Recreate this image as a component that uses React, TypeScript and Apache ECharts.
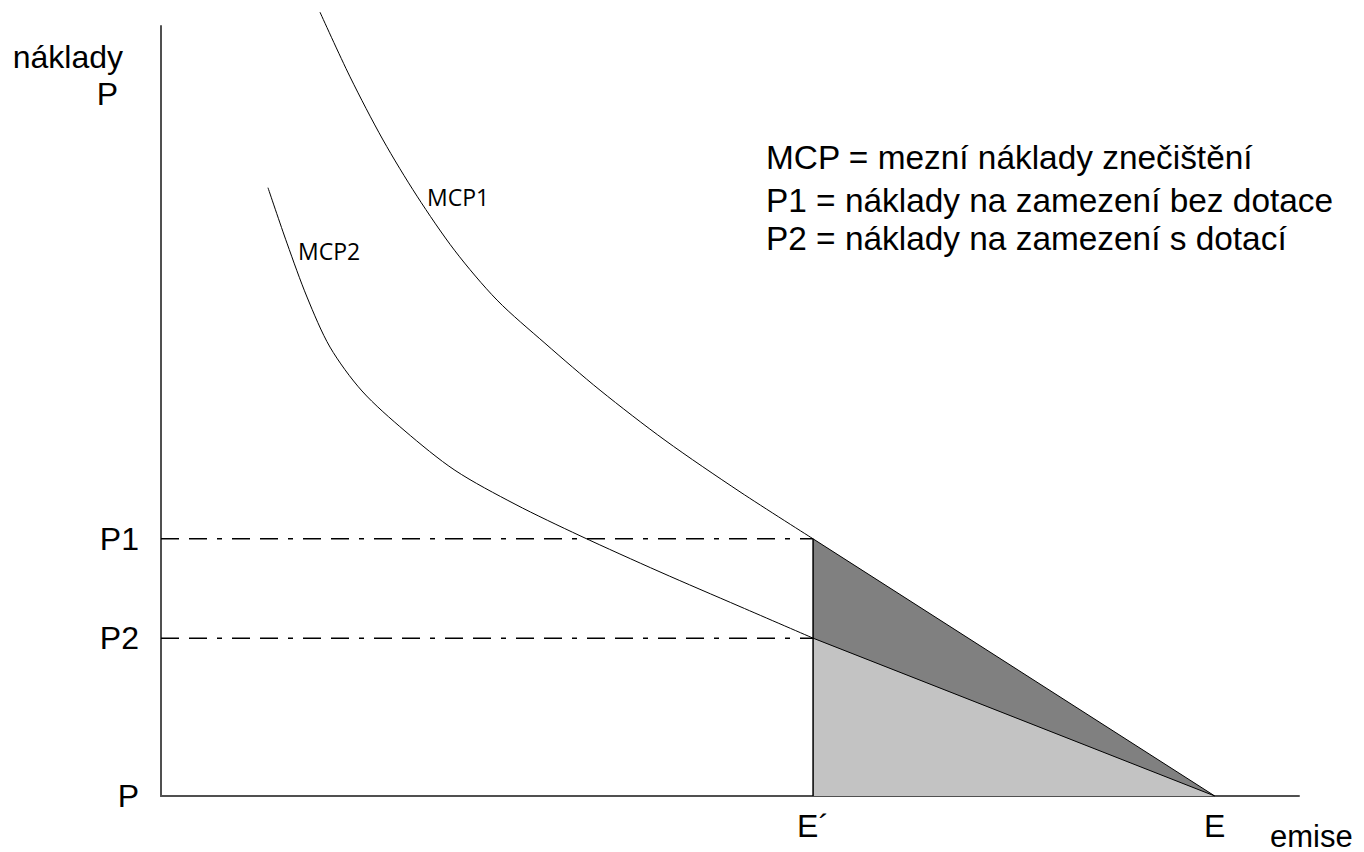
import React, { useEffect, useRef } from "react";
import * as echarts from "echarts";

// MCP1 curve (emise, náklady)
const mcp1X = [13.97, 16.61, 19.51, 22.5, 25.83, 29.53, 33.74, 38.58, 44.29, 50.88, 57.3];
const mcp1Y = [101.8, 93.4, 85.2, 77.9, 70.8, 64.4, 58.8, 52.7, 46.2, 39.5, 33.4];
// MCP2 curve
const mcp2X = [9.4, 11.07, 12.83, 14.85, 17.66, 21.44, 25.83, 31.11, 36.82, 43.85, 50.88, 57.3];
const mcp2Y = [79.0, 71.8, 64.8, 58.3, 52.6, 47.4, 42.3, 37.9, 33.8, 29.1, 24.6, 20.5];

// key levels
const ePrime = 57.3;
const eFull = 92.6;
const p1 = 33.4;
const p2 = 20.5;

const yTickValues = [0, p2, p1];
const yTickLabels = ["P", "P2", "P1"];
const xTickValues = [ePrime, eFull];
const xTickLabels = ["E\u00b4", "E"];

const legendLines = [
  "MCP = mezní náklady znečištění",
  "P1 = náklady na zamezení bez dotace",
  "P2 = náklady na zamezení s dotací",
];

const FONT = "'Liberation Sans', Arial, sans-serif";

function pick(values: number[], labels: string[], v: number) {
  let best = 0;
  for (let i = 0; i < values.length; i++) {
    if (Math.abs(values[i] - v) < Math.abs(values[best] - v)) best = i;
  }
  return labels[best];
}

export default function App() {
  const ref = useRef<HTMLDivElement>(null);
  useEffect(() => {
    document.body.style.margin = "0";
    const chart = echarts.init(ref.current!, null, { renderer: "svg" });
    const dashType = [18, 10, 18, 10, 5, 10];
    const option: any = {
      animation: false,
      backgroundColor: "#ffffff",
      grid: { left: 161, right: 65, top: 26, bottom: 56 },
      xAxis: {
        type: "value",
        min: 0,
        max: 100,
        splitLine: { show: false },
        axisTick: { show: false },
        axisLine: { show: true, lineStyle: { color: "#505050", width: 2 } },
        axisLabel: {
          customValues: xTickValues,
          formatter: (v: number) => pick(xTickValues, xTickLabels, v),
          color: "#000",
          fontFamily: FONT,
          fontSize: 32,
          margin: 14,
        },
      },
      yAxis: {
        type: "value",
        min: 0,
        max: 100,
        splitLine: { show: false },
        axisTick: { show: false },
        axisLine: { show: true, lineStyle: { color: "#505050", width: 2 } },
        axisLabel: {
          customValues: yTickValues,
          formatter: (v: number) => pick(yTickValues, yTickLabels, v),
          color: "#000",
          fontFamily: FONT,
          fontSize: 32,
          margin: 22,
        },
      },
      series: [
        {
          type: "line",
          data: [[ePrime, p1], [eFull, 0]],
          symbol: "none",
          lineStyle: { color: "#000", width: 1 },
          areaStyle: { color: "#808080", opacity: 1 },
          z: 1,
        },
        {
          type: "line",
          data: [[ePrime, p2], [eFull, 0]],
          symbol: "none",
          lineStyle: { color: "#000", width: 1 },
          areaStyle: { color: "#c3c3c3", opacity: 1 },
          z: 2,
        },
        {
          type: "line",
          data: [[ePrime, 0], [ePrime, p1]],
          symbol: "none",
          lineStyle: { color: "#000", width: 1.5 },
          z: 3,
        },
        {
          type: "line",
          data: [[0, p1], [ePrime, p1]],
          symbol: "none",
          lineStyle: { color: "#000", width: 1.5, type: dashType },
          z: 3,
        },
        {
          type: "line",
          data: [[0, p2], [ePrime, p2]],
          symbol: "none",
          lineStyle: { color: "#000", width: 1.5, type: dashType },
          z: 3,
        },
        {
          name: "MCP1",
          type: "line",
          data: mcp1X.map((x, i) => [x, mcp1Y[i]]),
          symbol: "none",
          smooth: 0.3,
          clip: false,
          lineStyle: { color: "#000", width: 1 },
          z: 4,
        },
        {
          name: "MCP2",
          type: "line",
          data: mcp2X.map((x, i) => [x, mcp2Y[i]]),
          symbol: "none",
          smooth: 0.3,
          clip: false,
          lineStyle: { color: "#000", width: 1 },
          z: 4,
        },
      ],
      graphic: [
        {
          type: "text",
          x: 123,
          y: 57,
          style: { text: "náklady", font: `32px ${FONT}`, fill: "#000", align: "right", verticalAlign: "middle" },
        },
        {
          type: "text",
          x: 118,
          y: 94,
          style: { text: "P", font: `32px ${FONT}`, fill: "#000", align: "right", verticalAlign: "middle" },
        },
        {
          type: "text",
          x: 1270,
          y: 836,
          style: { text: "emise", font: `31px ${FONT}`, fill: "#000", align: "left", verticalAlign: "middle" },
        },
        {
          type: "text",
          x: 427,
          y: 197,
          style: { text: "MCP1", font: `23px 'Open Sans', sans-serif`, fill: "#000", align: "left", verticalAlign: "middle" },
        },
        {
          type: "text",
          x: 298,
          y: 251,
          style: { text: "MCP2", font: `23px 'Open Sans', sans-serif`, fill: "#000", align: "left", verticalAlign: "middle" },
        },
        ...legendLines.map((t, i) => ({
          type: "text",
          x: 766,
          y: [157, 200, 238][i],
          style: { text: t, font: `33.4px ${FONT}`, fill: "#000", align: "left", verticalAlign: "middle" },
        })),
      ],
    };
    chart.setOption(option);
    return () => chart.dispose();
  }, []);
  return <div ref={ref} style={{ width: 1364, height: 852 }} />;
}
